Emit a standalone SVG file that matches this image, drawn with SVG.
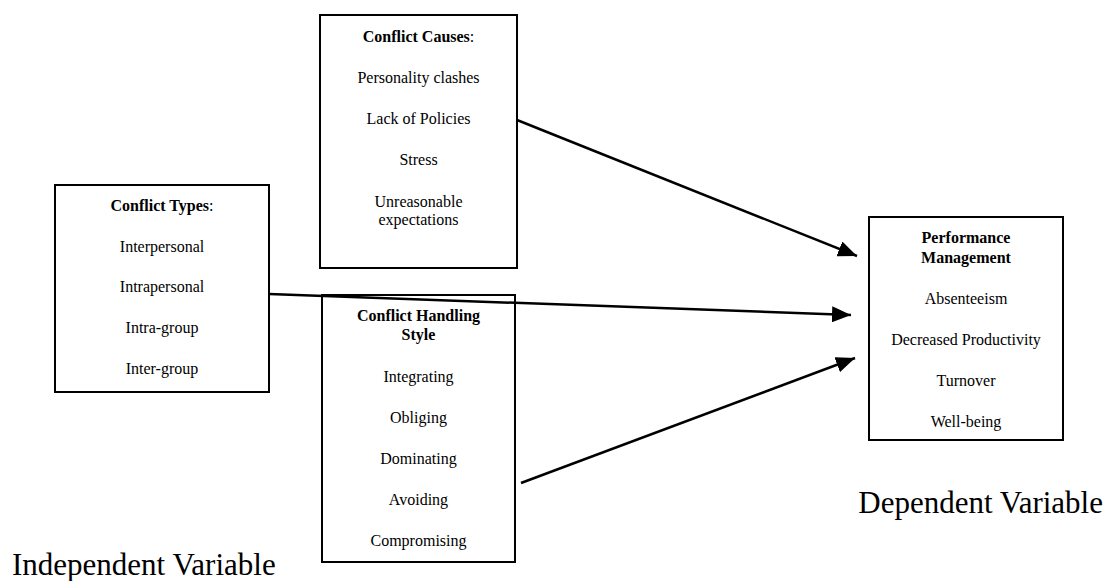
<svg xmlns="http://www.w3.org/2000/svg" width="1111" height="581" viewBox="0 0 1111 581">
<defs>
<style>
.box{fill:#fff;stroke:#000;stroke-width:2}
.t{font-family:"Liberation Serif","Times New Roman",serif;font-size:16px;fill:#000;text-anchor:middle}
.b{font-weight:bold}
.big{font-family:"Liberation Serif","Times New Roman",serif;font-size:31px;fill:#000}
.con{stroke:#000;stroke-width:2.5;fill:none;marker-end:url(#arr)}
</style>
<marker id="arr" markerUnits="userSpaceOnUse" markerWidth="20" markerHeight="16" refX="19" refY="8" orient="auto">
<path d="M0,0 L19,8 L0,16 z" fill="#000"/>
</marker>
</defs>
<rect width="1111" height="581" fill="#fff"/>
<g id="causes">
<rect class="box" x="320" y="15" width="197" height="253"/>
<text class="t" x="418.5" y="42"><tspan class="b">Conflict Causes</tspan>:</text>
<text class="t" x="418.5" y="83">Personality clashes</text>
<text class="t" x="418.5" y="124">Lack of Policies</text>
<text class="t" x="418.5" y="165">Stress</text>
<text class="t" x="418.5" y="207">Unreasonable</text>
<text class="t" x="418.5" y="225">expectations</text>
</g>
<g id="types">
<rect class="box" x="55" y="185" width="214" height="207"/>
<text class="t" x="162" y="211"><tspan class="b">Conflict Types</tspan>:</text>
<text class="t" x="162" y="252">Interpersonal</text>
<text class="t" x="162" y="292">Intrapersonal</text>
<text class="t" x="162" y="333">Intra-group</text>
<text class="t" x="162" y="374">Inter-group</text>
</g>
<g id="handling">
<rect class="box" x="322" y="295" width="193" height="267"/>
<text class="t b" x="418.5" y="321">Conflict Handling</text>
<text class="t b" x="418.5" y="340">Style</text>
<text class="t" x="418.5" y="382">Integrating</text>
<text class="t" x="418.5" y="423">Obliging</text>
<text class="t" x="418.5" y="464">Dominating</text>
<text class="t" x="418.5" y="505">Avoiding</text>
<text class="t" x="418.5" y="546">Compromising</text>
</g>
<g id="performance">
<rect class="box" x="869" y="217" width="194" height="223"/>
<text class="t b" x="966" y="243">Performance</text>
<text class="t b" x="966" y="263">Management</text>
<text class="t" x="966" y="304">Absenteeism</text>
<text class="t" x="966" y="345">Decreased Productivity</text>
<text class="t" x="966" y="386">Turnover</text>
<text class="t" x="966" y="427">Well-being</text>
</g>
<g id="connectors">
<line class="con" x1="517" y1="120" x2="857" y2="256"/>
<line class="con" x1="269" y1="294" x2="851" y2="315"/>
<line class="con" x1="521" y1="483" x2="855" y2="358"/>
</g>
<g id="labels">
<text class="big" x="1103" y="513" text-anchor="end">Dependent Variable</text>
<text class="big" x="12" y="575">Independent Variable</text>
</g>
</svg>
